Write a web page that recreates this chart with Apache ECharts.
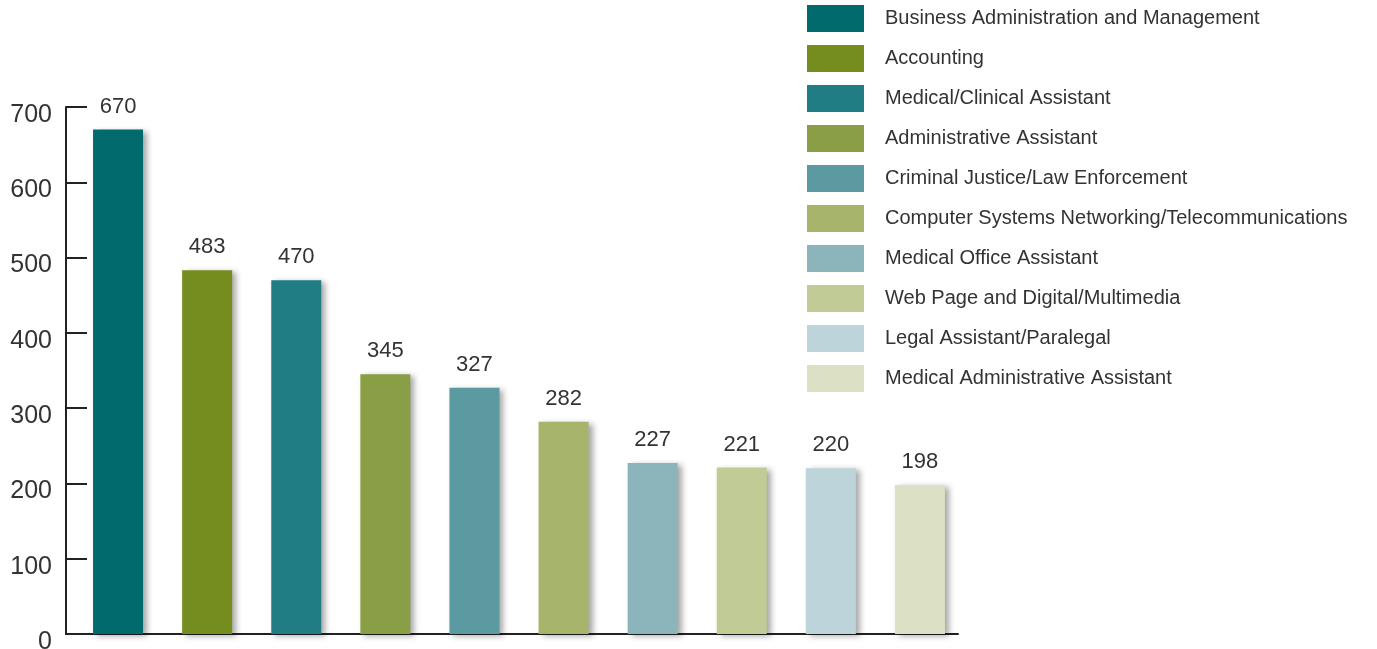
<!DOCTYPE html>
<html>
<head>
<meta charset="utf-8">
<script src="https://cdn.jsdelivr.net/npm/echarts@6/dist/echarts.min.js"></script>
<style>
  html, body { margin: 0; padding: 0; background: #fff; }
  #chart { width: 1377px; height: 649px; }
</style>
</head>
<body>
<div id="chart"></div>
<script>
// categories and values
const categories = [
  'Business Administration and Management',
  'Accounting',
  'Medical/Clinical Assistant',
  'Administrative Assistant',
  'Criminal Justice/Law Enforcement',
  'Computer Systems Networking/Telecommunications',
  'Medical Office Assistant',
  'Web Page and Digital/Multimedia',
  'Legal Assistant/Paralegal',
  'Medical Administrative Assistant'
];
const values = [670, 483, 470, 345, 327, 282, 227, 221, 220, 198];
const colors = ['#006a6c', '#758c1f', '#217d84', '#8a9f45', '#5a9aa0',
                '#a7b46c', '#8cb5bb', '#c1cb95', '#bdd5da', '#dce0c4'];
const yTicks = [0, 100, 200, 300, 400, 500, 600, 700];

const chart = echarts.init(document.getElementById('chart'));

// one series per category so the legend can list them; stacked so they share a slot
const series = categories.map((name, i) => ({
  name: name,
  type: 'bar',
  stack: 'all',
  xAxisIndex: 1,
  yAxisIndex: 1,
  barWidth: 50,
  data: values.map((v, j) => (j === i ? v : '-')),
  itemStyle: {
    color: colors[i],
    shadowBlur: 6,
    shadowOffsetX: 4,
    shadowOffsetY: 2,
    shadowColor: 'rgba(0,0,0,0.35)'
  },
  label: {
    show: true,
    position: 'top',
    distance: 12,
    fontSize: 22,
    color: '#333',
    fontFamily: 'Liberation Sans'
  },
  emphasis: { disabled: true }
}));

const yMin = yTicks[0];
const yMax = yTicks[yTicks.length - 1];

const option = {
  animation: false,
  textStyle: { fontFamily: 'Liberation Sans' },
  grid: [
    // axes frame
    { left: 66, right: 419, top: 107, bottom: 15, outerBoundsMode: 'none', containLabel: false },
    // bars
    { left: 73.5, right: 412.5, top: 107, bottom: 15, outerBoundsMode: 'none', containLabel: false }
  ],
  legend: {
    orient: 'vertical',
    left: 802,
    top: 0,
    itemWidth: 57,
    itemHeight: 27,
    itemGap: 13,
    icon: 'rect',
    selectedMode: false,
    data: categories,
    itemStyle: { shadowBlur: 0, shadowOffsetX: 0, shadowOffsetY: 0 },
    textStyle: { fontSize: 20, color: '#333', padding: [0, 0, 0, 16] }
  },
  xAxis: [
    {
      type: 'category',
      gridIndex: 0,
      data: categories,
      axisLine: { lineStyle: { color: '#222', width: 2 } },
      axisTick: { show: false },
      axisLabel: { show: false }
    },
    {
      type: 'category',
      gridIndex: 1,
      data: categories,
      axisLine: { show: false },
      axisTick: { show: false },
      axisLabel: { show: false }
    }
  ],
  yAxis: [
    {
      type: 'value',
      gridIndex: 0,
      min: yMin,
      max: yMax,
      interval: 100,
      splitLine: { show: false },
      axisLine: { show: true, lineStyle: { color: '#222', width: 2 } },
      axisTick: { show: true, inside: true, length: 21, lineStyle: { color: '#222', width: 2 } },
      // labels sit a little below their ticks in the original
      axisLabel: { fontSize: 25, color: '#333', margin: 14, verticalAlign: 'top', lineHeight: 16 }
    },
    {
      type: 'value',
      gridIndex: 1,
      min: yMin,
      max: yMax,
      interval: 100,
      show: false
    }
  ],
  series: series
};

chart.setOption(option);
</script>
</body>
</html>
